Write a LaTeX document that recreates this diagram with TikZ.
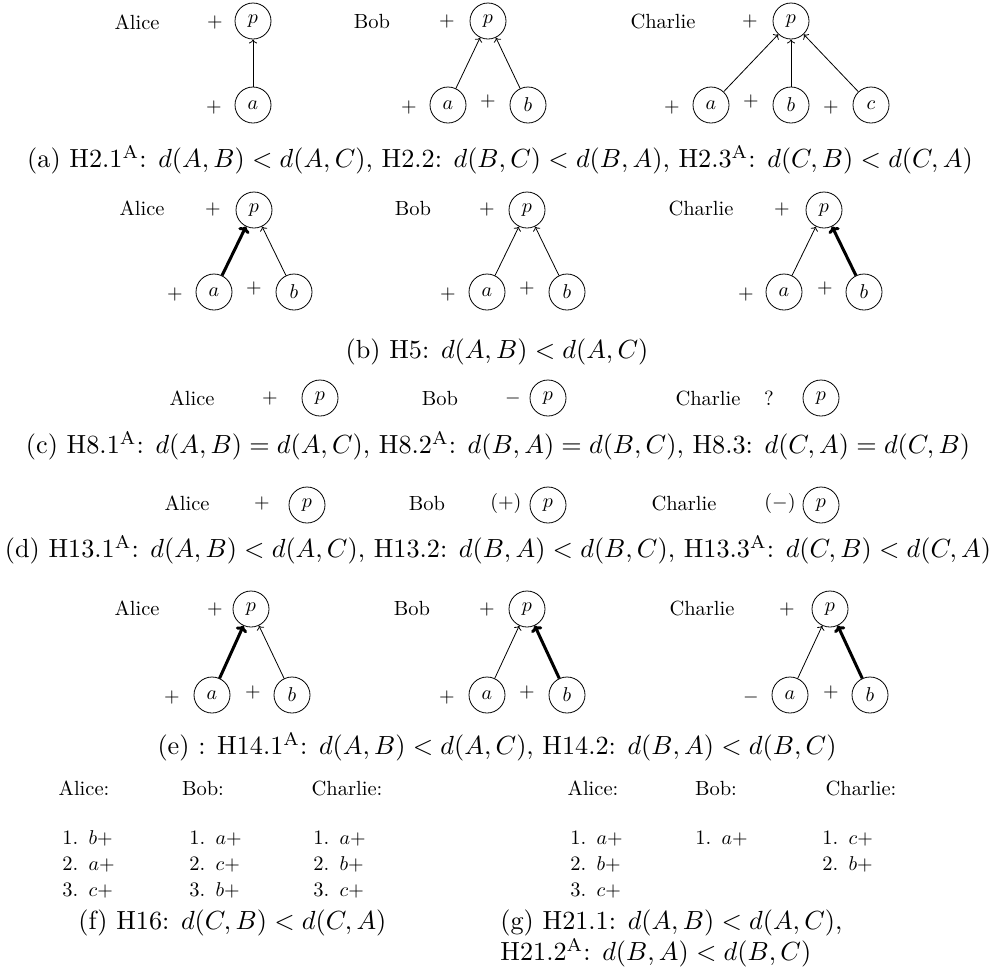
\documentclass[tikz,border=0pt]{standalone}
\usepackage{graphicx}
\usetikzlibrary{arrows.meta}
\tikzset{
  lbl/.style={font=\fontsize{10.25}{12}\selectfont, inner sep=0pt},
  captxt/.style={inner sep=0pt},
  vn/.style={circle, draw, line width=0.4pt, minimum size=18pt, inner sep=0pt, font=\fontsize{10.25}{12}\selectfont},
  thinarr/.style={-{To[length=2pt,width=4pt]}, line width=0.4pt},
  thickarr/.style={-{To[length=3pt,width=6pt]}, line width=1.5pt},
  listitem/.style={font=\fontsize{10.25}{12}\selectfont, inner sep=0pt, anchor=west}
}
\newcommand\capsc{1.31}
\newcommand\captext[1]{\scalebox{\capsc}{\fontsize{10}{12}\selectfont #1}}
\begin{document}
\begin{tikzpicture}[x=0.5pt,y=-0.5pt]
\useasboundingbox (0,0) rectangle (992,976);
% ---------- row (a)
\node[lbl] (aAl) at (137,22) {Alice};
\node[lbl] (aAs) at (215,22) {$+$};
\node[vn] (aAp) at (253,21) {$p$};
\node[vn] (aAa) at (253,105) {$a$};
\node[lbl] (aAsa) at (214,107) {$+$};
\draw[thinarr] (aAa) -- (aAp);
\node[lbl] (aBl) at (372,21) {Bob};
\node[lbl] (aBs) at (447,21) {$+$};
\node[vn] (aBp) at (488,21) {$p$};
\node[vn] (aBa) at (448,105) {$a$};
\node[lbl] (aBsa) at (409,107) {$+$};
\node[lbl] (aBsb) at (488,101) {$+$};
\node[vn] (aBb) at (528,105) {$b$};
\draw[thinarr] (aBa) -- (aBp);
\draw[thinarr] (aBb) -- (aBp);
\node[lbl] (aCl) at (663,21) {Charlie};
\node[lbl] (aCs) at (750,21) {$+$};
\node[vn] (aCp) at (791,21) {$p$};
\node[vn] (aCa) at (711,105) {$a$};
\node[lbl] (aCsa) at (672,107) {$+$};
\node[lbl] (aCsb) at (751,101) {$+$};
\node[vn] (aCb) at (791,105) {$b$};
\node[lbl] (aCsc) at (831,107) {$+$};
\node[vn] (aCc) at (871,105) {$c$};
\draw[thinarr] (aCa) -- (aCp);
\draw[thinarr] (aCb) -- (aCp);
\draw[thinarr] (aCc) -- (aCp);
\node[captxt] (capa) at (500,160) {\captext{(a) H2.1$^{\mathrm{A}}$: $d(A,B)<d(A,C)$, H2.2: $d(B,C)<d(B,A)$, H2.3$^{\mathrm{A}}$: $d(C,B)<d(C,A)$}};
% ---------- row (b)
\node[lbl] (bAl) at (142,208) {Alice};
\node[lbl] (bAs) at (213,209) {$+$};
\node[vn] (bAp) at (254,210) {$p$};
\node[vn] (bAa) at (214,292) {$a$};
\node[lbl] (bAsa) at (175,294) {$+$};
\node[lbl] (bAsb) at (254,288) {$+$};
\node[vn] (bAb) at (294,292) {$b$};
\draw[thickarr] (bAa) -- (bAp);
\draw[thinarr] (bAb) -- (bAp);
\node[lbl] (bBl) at (413,208) {Bob};
\node[lbl] (bBs) at (487,209) {$+$};
\node[vn] (bBp) at (527,210) {$p$};
\node[vn] (bBa) at (487,292) {$a$};
\node[lbl] (bBsa) at (448,294) {$+$};
\node[lbl] (bBsb) at (527,288) {$+$};
\node[vn] (bBb) at (567,292) {$b$};
\draw[thinarr] (bBa) -- (bBp);
\draw[thinarr] (bBb) -- (bBp);
\node[lbl] (bCl) at (701,208) {Charlie};
\node[lbl] (bCs) at (782,209) {$+$};
\node[vn] (bCp) at (824,210) {$p$};
\node[vn] (bCa) at (784,292) {$a$};
\node[lbl] (bCsa) at (746,294) {$+$};
\node[lbl] (bCsb) at (825,288) {$+$};
\node[vn] (bCb) at (864,292) {$b$};
\draw[thinarr] (bCa) -- (bCp);
\draw[thickarr] (bCb) -- (bCp);
\node[captxt] (capb) at (497,352) {\captext{(b) H5: $d(A,B)<d(A,C)$}};
% ---------- row (c)
\node[lbl] (cAl) at (192,398) {Alice};
\node[lbl] (cAs) at (270,398) {$+$};
\node[vn] (cAp) at (320,398) {$p$};
\node[lbl] (cBl) at (440,398) {Bob};
\node[lbl] (cBs) at (513,398) {$-$};
\node[vn] (cBp) at (548,398) {$p$};
\node[lbl] (cCl) at (708,398) {Charlie};
\node[lbl] (cCs) at (769,398) {?};
\node[vn] (cCp) at (821,398) {$p$};
\node[captxt] (capc) at (498,446) {\captext{(c) H8.1$^{\mathrm{A}}$: $d(A,B)=d(A,C)$, H8.2$^{\mathrm{A}}$: $d(B,A)=d(B,C)$, H8.3: $d(C,A)=d(C,B)$}};
% ---------- row (d)
\node[lbl] (dAl) at (187,503) {Alice};
\node[lbl] (dAs) at (262,503) {$+$};
\node[vn] (dAp) at (307,505) {$p$};
\node[lbl] (dBl) at (427,503) {Bob};
\node[lbl] (dBs) at (506,503) {$(+)$};
\node[vn] (dBp) at (548,505) {$p$};
\node[lbl] (dCl) at (684,503) {Charlie};
\node[lbl] (dCs) at (780,503) {$(-)$};
\node[vn] (dCp) at (821,505) {$p$};
\node[captxt] (capd) at (498,550) {\captext{(d) H13.1$^{\mathrm{A}}$: $d(A,B)<d(A,C)$, H13.2: $d(B,A)<d(B,C)$, H13.3$^{\mathrm{A}}$: $d(C,B)<d(C,A)$}};
% ---------- row (e)
\node[lbl] (eAl) at (137,608) {Alice};
\node[lbl] (eAs) at (215,609) {$+$};
\node[vn] (eAp) at (251,609) {$p$};
\node[vn] (eAa) at (212,695) {$a$};
\node[lbl] (eAsa) at (172,697) {$+$};
\node[lbl] (eAsb) at (253,692) {$+$};
\node[vn] (eAb) at (292,695) {$b$};
\draw[thickarr] (eAa) -- (eAp);
\draw[thinarr] (eAb) -- (eAp);
\node[lbl] (eBl) at (412,608) {Bob};
\node[lbl] (eBs) at (487,609) {$+$};
\node[vn] (eBp) at (527,609) {$p$};
\node[vn] (eBa) at (487,695) {$a$};
\node[lbl] (eBsa) at (447,697) {$+$};
\node[lbl] (eBsb) at (527,692) {$+$};
\node[vn] (eBb) at (567,695) {$b$};
\draw[thinarr] (eBa) -- (eBp);
\draw[thickarr] (eBb) -- (eBp);
\node[lbl] (eCl) at (702,608) {Charlie};
\node[lbl] (eCs) at (787,609) {$+$};
\node[vn] (eCp) at (830,609) {$p$};
\node[vn] (eCa) at (790,695) {$a$};
\node[lbl] (eCsa) at (751,697) {$-$};
\node[lbl] (eCsb) at (831,692) {$+$};
\node[vn] (eCb) at (870,695) {$b$};
\draw[thinarr] (eCa) -- (eCp);
\draw[thickarr] (eCb) -- (eCp);
\node[captxt] (cape) at (497,747) {\captext{(e) : H14.1$^{\mathrm{A}}$: $d(A,B)<d(A,C)$, H14.2: $d(B,A)<d(B,C)$}};
% ---------- rows (f) and (g)
\node[lbl] (fAh) at (84,788) {Alice:};
\node[lbl] (fBh) at (203,788) {Bob:};
\node[lbl] (fCh) at (347,788) {Charlie:};
\node[lbl] (gAh) at (593,788) {Alice:};
\node[lbl] (gBh) at (716,788) {Bob:};
\node[lbl] (gCh) at (861,788) {Charlie:};
\node[listitem] (fA1) at (62,838) {1.\hspace{0.5em}$b+$};
\node[listitem] (fA2) at (62,864) {2.\hspace{0.5em}$a+$};
\node[listitem] (fA3) at (62,890) {3.\hspace{0.5em}$c+$};
\node[listitem] (fB1) at (189,838) {1.\hspace{0.5em}$a+$};
\node[listitem] (fB2) at (189,864) {2.\hspace{0.5em}$c+$};
\node[listitem] (fB3) at (189,890) {3.\hspace{0.5em}$b+$};
\node[listitem] (fC1) at (313,838) {1.\hspace{0.5em}$a+$};
\node[listitem] (fC2) at (313,864) {2.\hspace{0.5em}$b+$};
\node[listitem] (fC3) at (313,890) {3.\hspace{0.5em}$c+$};
\node[listitem] (gA1) at (570,838) {1.\hspace{0.5em}$a+$};
\node[listitem] (gA2) at (570,864) {2.\hspace{0.5em}$b+$};
\node[listitem] (gA3) at (570,890) {3.\hspace{0.5em}$c+$};
\node[listitem] (gB1) at (695,838) {1.\hspace{0.5em}$a+$};
\node[listitem] (gC1) at (822,838) {1.\hspace{0.5em}$c+$};
\node[listitem] (gC2) at (822,864) {2.\hspace{0.5em}$b+$};
\node[captxt, anchor=west] (capf) at (78,923) {\captext{(f) H16: $d(C,B)<d(C,A)$}};
\node[captxt, anchor=west] (capg1) at (500,923) {\captext{(g) H21.1: $d(A,B)<d(A,C)$,}};
\node[captxt, anchor=west] (capg2) at (500,953) {\captext{H21.2$^{\mathrm{A}}$: $d(B,A)<d(B,C)$}};
\end{tikzpicture}
\end{document}
